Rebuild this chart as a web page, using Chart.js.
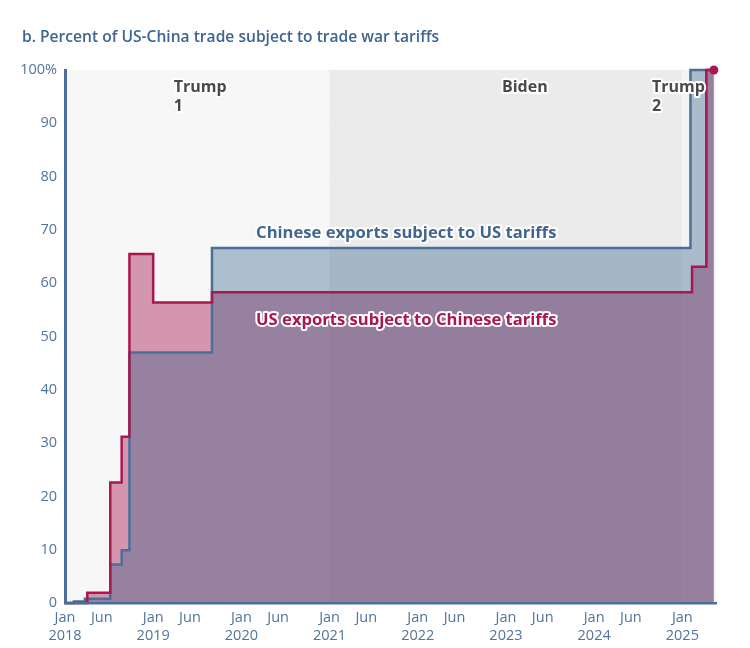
<!DOCTYPE html>
<html>
<head>
<meta charset="utf-8">
<script src="https://cdn.jsdelivr.net/npm/chart.js@4.4.1/dist/chart.umd.min.js"></script>
<style>
  html, body { margin: 0; padding: 0; background: #fff; }
</style>
</head>
<body>
<canvas id="chart" width="750" height="648"></canvas>
<script>
const title = 'b. Percent of US-China trade subject to trade war tariffs';

// Chinese exports subject to US tariffs (value holds from date onward)
const chinaDates  = ['2018-01-01', '2018-02-07', '2018-03-23', '2018-07-06', '2018-08-23', '2018-09-24', '2019-09-01', '2025-02-04', '2025-05-10'];
const chinaValues = [0, 0.3, 0.8, 7.2, 9.9, 47.0, 66.6, 100, 100];

// US exports subject to Chinese tariffs
const usDates  = ['2018-01-01', '2018-04-02', '2018-07-06', '2018-08-23', '2018-09-24', '2019-01-01', '2019-09-01', '2025-02-10', '2025-04-09', '2025-05-10'];
const usValues = [0, 1.9, 22.6, 31.2, 65.5, 56.4, 58.3, 63.1, 100, 100];

const xTickDates  = ['2018-01-01', '2018-06-01', '2019-01-01', '2019-06-01', '2020-01-01', '2020-06-01', '2021-01-01', '2021-06-01',
                     '2022-01-01', '2022-06-01', '2023-01-01', '2023-06-01', '2024-01-01', '2024-06-01', '2025-01-01'];
const xTickLabels = [['Jan', '2018'], 'Jun', ['Jan', '2019'], 'Jun', ['Jan', '2020'], 'Jun', ['Jan', '2021'], 'Jun',
                     ['Jan', '2022'], 'Jun', ['Jan', '2023'], 'Jun', ['Jan', '2024'], 'Jun', ['Jan', '2025']];
const yTicks = [0, 10, 20, 30, 40, 50, 60, 70, 80, 90, 100];

const periodNames  = [['Trump', '1'], ['Biden'], ['Trump', '2']];
const periodStarts = ['2018-01-01', '2021-01-01', '2025-01-01'];
const periodEnds   = ['2021-01-01', '2025-01-01', '2025-05-19'];
const periodLabelAt = ['2019-03-26', '2022-12-15', '2024-08-28'];

const seriesNames = ['Chinese exports subject to US tariffs', 'US exports subject to Chinese tariffs'];

// months since Jan 2018
function monthIndex(s) {
  const [y, m, d] = s.split('-').map(Number);
  const dim = new Date(y, m, 0).getDate();
  return (y - 2018) * 12 + (m - 1) + (d - 1) / dim;
}

const chinaPts = chinaDates.map((d, i) => ({ x: monthIndex(d), y: chinaValues[i] }));
const usPts = usDates.map((d, i) => ({ x: monthIndex(d), y: usValues[i] }));

const BLUE = '#4a6f98';
const RED = '#a8174f';
const TICK = '#52749c';
const FONT = '"Open Sans", "Noto Sans", sans-serif';

function haloText(ctx, txt, x, y, color) {
  ctx.lineJoin = 'round';
  ctx.strokeStyle = '#fff';
  ctx.lineWidth = 4;
  ctx.strokeText(txt, x, y);
  ctx.fillStyle = color;
  ctx.fillText(txt, x, y);
}

const decor = {
  id: 'decor',
  beforeDatasetsDraw(chart) {
    const { ctx, chartArea: a, scales: { x } } = chart;
    const fills = ['#f7f7f7', '#ebebeb', '#f3f3f3'];
    ctx.save();
    periodStarts.forEach((s, i) => {
      const x0 = x.getPixelForValue(monthIndex(s));
      const x1 = x.getPixelForValue(monthIndex(periodEnds[i]));
      ctx.fillStyle = fills[i];
      ctx.fillRect(x0, a.top, x1 - x0, a.bottom - a.top);
    });
    ctx.restore();
  },
  afterDatasetsDraw(chart) {
    const { ctx, chartArea: a, scales: { x, y } } = chart;
    ctx.save();
    ctx.textBaseline = 'middle';
    ctx.textAlign = 'left';
    ctx.font = 'bold 16px ' + FONT;
    periodNames.forEach((lines, i) => {
      const px = x.getPixelForValue(monthIndex(periodLabelAt[i]));
      lines.forEach((t, j) => haloText(ctx, t, px, a.top + 17 + j * 19, '#4a4a4a'));
    });
    ctx.font = 'bold 16.6px ' + FONT;
    const lx = x.getPixelForValue(monthIndex('2020-03-01'));
    haloText(ctx, seriesNames[0], lx, y.getPixelForValue(69.4), '#3f6690');
    haloText(ctx, seriesNames[1], lx, y.getPixelForValue(53.0), RED);
    ctx.restore();
  },
  afterDraw(chart) {
    const ctx = chart.ctx;
    ctx.save();
    ctx.font = '600 15.6px ' + FONT;
    ctx.fillStyle = '#3d6591';
    ctx.textBaseline = 'middle';
    ctx.textAlign = 'left';
    ctx.fillText(title, 22, 38);
    ctx.restore();
  }
};

const config = {
  type: 'line',
  data: {
    datasets: [
      { label: seriesNames[1], data: usPts, stepped: true, fill: false, borderColor: RED, borderWidth: 2.5, clip: false,
        pointRadius: c => c.dataIndex === usPts.length - 1 ? 4.5 : 0, pointBackgroundColor: RED, pointBorderWidth: 0, order: 0 },
      { label: seriesNames[0], data: chinaPts, stepped: true, fill: false, borderColor: BLUE, borderWidth: 2.5, clip: false,
        pointRadius: 0, order: 1 },
      { label: 'fill0', data: chinaPts, stepped: true, fill: 'origin', borderWidth: 0,
        backgroundColor: 'rgba(47,96,139,0.37)', pointRadius: 0, order: 2 },
      { label: 'fill1', data: usPts, stepped: true, fill: 'origin', borderWidth: 0,
        backgroundColor: 'rgba(168,23,79,0.43)', pointRadius: 0, order: 3 }
    ]
  },
  options: {
    responsive: false,
    animation: false,
    layout: { padding: { top: 70, right: 34, left: 0, bottom: 0 } },
    plugins: { legend: { display: false }, tooltip: { enabled: false }, title: { display: false } },
    scales: {
      x: {
        type: 'linear',
        min: 0,
        max: monthIndex('2025-05-19'),
        afterFit: s => { s.height = 45; },
        afterBuildTicks: s => { s.ticks = xTickDates.map(d => ({ value: monthIndex(d) })); },
        grid: { display: false, drawTicks: false },
        border: { display: true, color: BLUE, width: 2.5, z: 1 },
        ticks: {
          autoSkip: false, maxRotation: 0, padding: 6, color: TICK,
          font: { family: FONT, size: 14.5, lineHeight: 1.25 },
          callback: (v, i) => xTickLabels[i]
        }
      },
      y: {
        min: 0,
        max: 100,
        afterFit: s => { s.width = 65; },
        afterBuildTicks: s => { s.ticks = yTicks.map(v => ({ value: v })); },
        grid: { color: '#a9bace', lineWidth: 1, drawTicks: false },
        border: { display: true, color: BLUE, width: 3, z: 1 },
        ticks: {
          padding: 8, color: TICK,
          font: { family: FONT, size: 14.5 },
          callback: v => v === 100 ? '100%' : v
        }
      }
    }
  },
  plugins: [decor]
};

const chart = new Chart(document.getElementById('chart'), config);
</script>
</body>
</html>
